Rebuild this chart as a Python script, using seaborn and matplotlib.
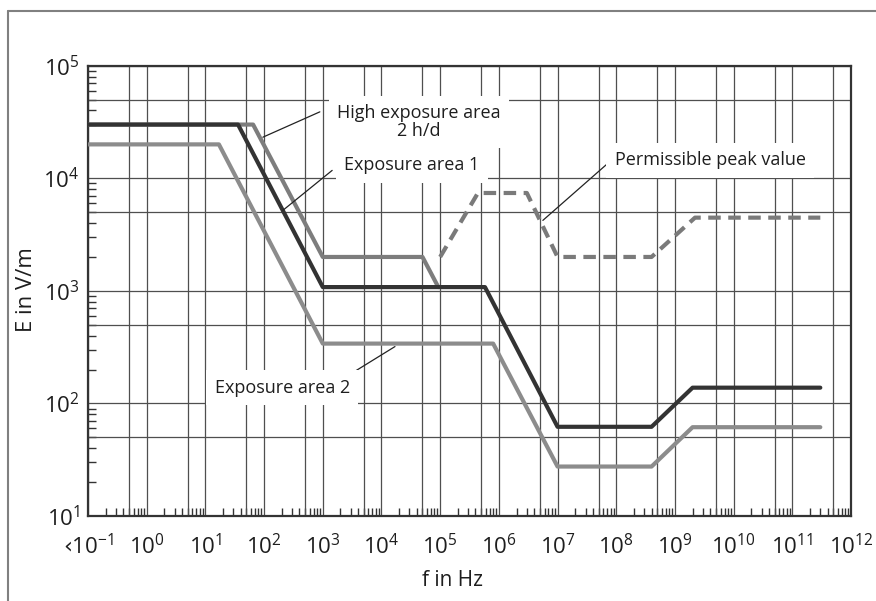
import numpy as np
import pandas as pd
import matplotlib
matplotlib.use("Agg")
import matplotlib.pyplot as plt
import matplotlib.ticker as mticker
from matplotlib.lines import Line2D
import seaborn as sns

# limit curves (f in Hz, E in V/m)
area1_f = [1e-1, 36, 1e3, 5.8e5, 1e7, 4e8, 2e9, 3e11]
area1_E = [30000, 30000, 1080, 1080, 62, 62, 138, 138]

high_f = [1e-1, 65, 1e3, 5e4, 9.3e4]
high_E = [30000, 30000, 2000, 2000, 1080]

area2_f = [1e-1, 17, 1e3, 8e5, 1e7, 4e8, 2e9, 3e11]
area2_E = [20000, 20000, 340, 340, 27.5, 27.5, 61.5, 61.5]

peak_f = [1e5, 4.4e5, 3e6, 1e7, 4e8, 2.2e9, 3e11]
peak_E = [2000, 7400, 7400, 2000, 2000, 4470, 4470]

x_ticks = [10.0 ** k for k in range(-1, 13)]
x_labels = ["\u2039$10^{-1}$"] + ["$10^{%d}$" % k for k in range(0, 13)]
y_ticks = [10.0 ** k for k in range(1, 6)]
y_labels = ["$10^{%d}$" % k for k in range(1, 6)]

# annotation texts and leader lines
labels = ["High exposure area\n2 h/d", "Exposure area 1", "Permissible peak value", "Exposure area 2"]
label_x = [10 ** 4.64, 10 ** 4.52, 10 ** 9.6, 10 ** 2.31]
label_y = [10 ** 4.50, 10 ** 4.115, 10 ** 4.16, 10 ** 2.14]
leader_start = [(10 ** 1.98, 10 ** 4.365), (10 ** 2.32, 10 ** 3.715), (10 ** 6.75, 10 ** 3.626), (10 ** 3.5, 10 ** 2.27)]
leader_end = [(10 ** 2.95, 10 ** 4.59), (10 ** 3.16, 10 ** 4.07), (10 ** 7.86, 10 ** 4.134), (10 ** 4.23, 10 ** 2.505)]

sns.set_theme(style="white")
plt.rcParams["font.family"] = ["Open Sans", "DejaVu Sans"]
plt.rcParams["mathtext.default"] = "regular"

fig = plt.figure(figsize=(8.76, 6.01), dpi=100)
ax = fig.add_axes([88 / 876, 1 - 516 / 601, 763 / 876, 450.3 / 601])
ax.set_xscale("log")
ax.set_yscale("log")
ax.set_xlim(1e-1, 1e12)
ax.set_ylim(1e1, 1e5)

grid_kw = dict(color="#4f4f4f", lw=0.9, zorder=1)
for k in range(-1, 12):
    ax.axvline(5 * 10.0 ** k, **grid_kw)
for k in range(1, 5):
    ax.axhline(5 * 10.0 ** k, **grid_kw)
ax.grid(True, which="major", **{"color": "#4f4f4f", "lw": 0.9})
ax.set_axisbelow(True)

lw = 3.0
sns.lineplot(x=area2_f, y=area2_E, ax=ax, color="#8c8c8c", lw=lw, zorder=3)
sns.lineplot(x=high_f, y=high_E, ax=ax, color="#7d7d7d", lw=lw, zorder=3)
sns.lineplot(x=peak_f, y=peak_E, ax=ax, color="#7a7a7a", lw=lw, zorder=3,
             linestyle=(0, (3, 1.8)))
sns.lineplot(x=area1_f, y=area1_E, ax=ax, color="#333333", lw=lw, zorder=4)

for (x0, y0), (x1, y1) in zip(leader_start, leader_end):
    ax.plot([x0, x1], [y0, y1], color="#222222", lw=0.9, zorder=5)

for txt, tx, ty in zip(labels, label_x, label_y):
    ax.text(tx, ty, txt, ha="center", va="center", fontsize=13, color="#1e1e1e",
            linespacing=1.0, zorder=6,
            bbox=dict(facecolor="white", edgecolor="none", pad=6))

ax.set_xticks(x_ticks)
ax.set_xticklabels(x_labels, fontsize=16)
ax.set_yticks(y_ticks)
ax.set_yticklabels(y_labels, fontsize=16)
ax.xaxis.set_minor_locator(mticker.LogLocator(base=10, subs=np.arange(2, 10), numticks=100))
ax.yaxis.set_minor_locator(mticker.LogLocator(base=10, subs=np.arange(2, 10), numticks=100))
ax.xaxis.set_minor_formatter(mticker.NullFormatter())
ax.yaxis.set_minor_formatter(mticker.NullFormatter())
ax.tick_params(which="major", direction="out", length=4, width=1.2, color="#333333",
               labelcolor="#1e1e1e")
ax.tick_params(axis="x", which="major", pad=9)
ax.tick_params(axis="y", which="major", pad=2)
ax.tick_params(which="minor", direction="in", length=6, width=1.0, color="#333333",
               bottom=True, left=True)
for s in ax.spines.values():
    s.set_color("#333333")
    s.set_linewidth(1.6)
ax.set_xlabel("")
ax.set_ylabel("")

fig.text(27 / 876, 1 - 290 / 601, "E in V/m", rotation=90, ha="center", va="center",
         fontsize=16, color="#1e1e1e")
fig.text(452 / 876, 1 - 580 / 601, "f in Hz", ha="center", va="center",
         fontsize=15, color="#1e1e1e")

fig.add_artist(Line2D([8 / 876, 8 / 876], [0, 1 - 11 / 601], transform=fig.transFigure,
                      color="#808080", lw=1.5))
fig.add_artist(Line2D([8 / 876, 1], [1 - 11 / 601, 1 - 11 / 601], transform=fig.transFigure,
                      color="#808080", lw=1.5))

fig.savefig("out.png", dpi=100)
